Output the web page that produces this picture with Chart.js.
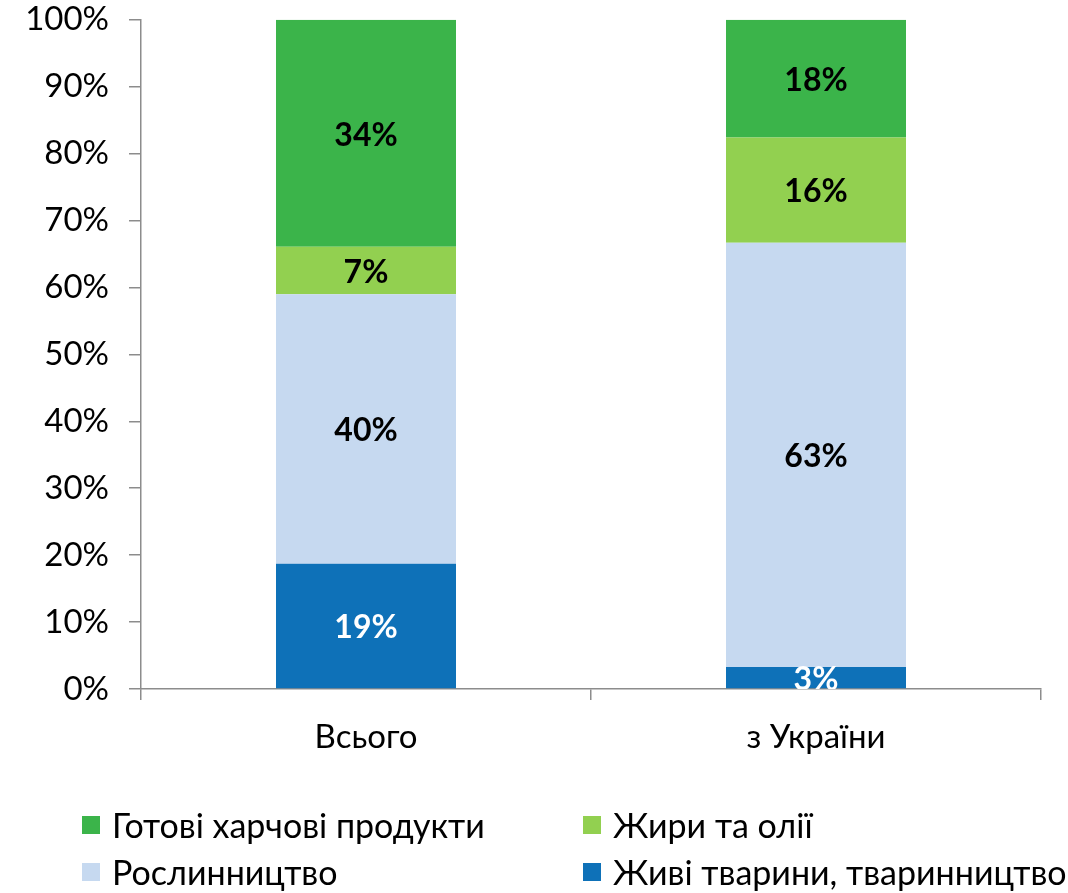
<!DOCTYPE html>
<html lang="uk">
<head>
<meta charset="utf-8">
<title>Структура імпорту</title>
<script src="https://cdn.jsdelivr.net/npm/chart.js@4"></script>
<style>
  html, body { margin: 0; padding: 0; background: #fff; overflow: hidden; }
  #wrap { position: relative; width: 1068px; height: 893px; overflow: hidden; }
  #chart { position: absolute; left: 0; top: -20px; }
  #legend {
    position: absolute; left: 0; top: 800px; width: 1068px;
    font-family: Lato, "Open Sans", sans-serif; font-size: 34px; color: #000;
  }
  .item { position: absolute; display: flex; align-items: center; white-space: nowrap; }
  .box { width: 18px; height: 18px; margin-right: 12px; }
</style>
</head>
<body>
<div id="wrap">
  <canvas id="chart" width="1068" height="913"></canvas>
  <div id="legend"></div>
</div>
<script>
(function () {
  "use strict";

  // ── Data ───────────────────────────────────
  const categories = ["Всього", "з України"];
  const seriesNames = [
    "Живі тварини, тваринництво",
    "Рослинництво",
    "Жири та олії",
    "Готові харчові продукти"
  ];
  const liveAnimals = [18.7, 3.3];
  const crops       = [40.3, 63.4];
  const fatsOils    = [7.1, 15.7];
  const foodProducts = [33.9, 17.6];
  const yTicks = [0, 10, 20, 30, 40, 50, 60, 70, 80, 90, 100];

  // ── Styles ─────────────────────────────────
  const COLORS = ["#0E71B8", "#C6D9F0", "#92D050", "#3BB44A"];
  const LABEL_COLORS = ["#fff", "#000", "#000", "#000"];
  const AXIS = "#8c8c8c";
  const FONT = "Lato, 'Open Sans', sans-serif";

  const values = [liveAnimals, crops, fatsOils, foodProducts];

  // ── Data labels in segment centres ─────────
  const segmentLabels = {
    id: "segmentLabels",
    afterDatasetsDraw(chart) {
      const ctx = chart.ctx;
      const area = chart.chartArea;
      ctx.save();
      ctx.beginPath();
      ctx.rect(area.left, area.top, area.right - area.left, area.bottom - area.top);
      ctx.clip();
      ctx.font = "bold 32px " + FONT;
      ctx.textAlign = "center";
      ctx.textBaseline = "middle";
      chart.data.datasets.forEach((ds, i) => {
        chart.getDatasetMeta(i).data.forEach((bar, j) => {
          const v = ds.data[j];
          ctx.fillStyle = LABEL_COLORS[i];
          ctx.fillText(Math.round(v) + "%", bar.x, (bar.y + bar.base) / 2 + 2);
        });
      });
      ctx.restore();
    }
  };

  new Chart(document.getElementById("chart"), {
    type: "bar",
    data: {
      labels: categories,
      datasets: seriesNames.map((name, i) => ({
        label: name,
        data: values[i],
        backgroundColor: COLORS[i],
        borderWidth: 0,
        barPercentage: 0.4,
        categoryPercentage: 1
      }))
    },
    options: {
      responsive: false,
      animation: false,
      devicePixelRatio: 1,
      layout: { padding: { top: 0, right: 27, bottom: 124, left: 0 } },
      plugins: { legend: { display: false }, tooltip: { enabled: false } },
      scales: {
        x: {
          stacked: true,
          grid: { display: true, drawOnChartArea: false, drawTicks: true, tickLength: 11, color: AXIS, lineWidth: 1.5, offset: true },
          border: { display: true, color: AXIS, width: 1.5 },
          ticks: { color: "#000", font: { family: FONT, size: 33 }, padding: 18 },
          afterFit(scale) { scale.height = 80; }
        },
        y: {
          stacked: true,
          min: 0,
          max: 100,
          grid: { display: true, drawOnChartArea: false, drawTicks: true, tickLength: 12, color: AXIS, lineWidth: 1.5 },
          border: { display: true, color: AXIS, width: 1.5 },
          ticks: {
            stepSize: 10,
            color: "#000",
            font: { family: FONT, size: 33 },
            padding: 20,
            callback: (v) => (yTicks.includes(v) ? v + "%" : "")
          },
          afterFit(scale) { scale.width = 141; }
        }
      }
    },
    plugins: [segmentLabels]
  });

  // ── Legend (two columns, top series first) ─
  const $legend = document.getElementById("legend");
  const order = [3, 2, 1, 0];
  const cols = [82, 583];
  const rows = [4, 51];
  order.forEach((s, k) => {
    const el = document.createElement("div");
    el.className = "item";
    el.style.left = cols[k % 2] + "px";
    el.style.top = rows[Math.floor(k / 2)] + "px";
    el.innerHTML = `<span class="box" style="background:${COLORS[s]}"></span><span>${seriesNames[s]}</span>`;
    $legend.appendChild(el);
  });
})();
</script>
</body>
</html>
